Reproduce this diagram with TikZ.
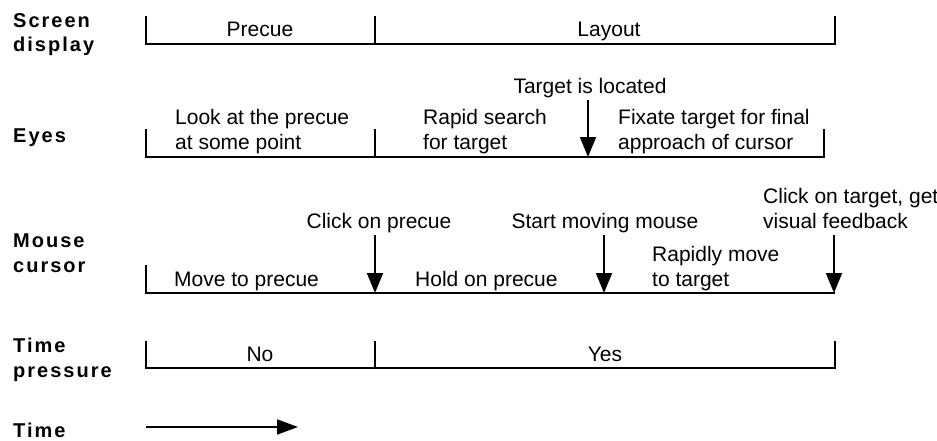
\documentclass[tikz,border=0pt]{standalone}
\usepackage{fontspec}
\setmainfont{Liberation Sans}
\newfontfamily\lblfont[LetterSpace=10]{Liberation Sans}
\usetikzlibrary{arrows.meta}
\tikzset{
  txt/.style={font=\fontsize{21}{25}\selectfont, inner sep=0pt, anchor=base west},
  ctxt/.style={txt, anchor=base},
  lbl/.style={font=\lblfont\bfseries\fontsize{20}{24}\selectfont, inner sep=0pt, anchor=base west},
  tl/.style={line width=1.8pt, line join=miter},
  ev/.style={line width=1.8pt, -{Triangle[width=16pt,length=20pt]}},
  tarrow/.style={line width=1.8pt, -{Triangle[width=15pt,length=21pt]}}
}
\begin{document}
\begin{tikzpicture}[x=1pt,y=-1pt]
\useasboundingbox (0,0) rectangle (937,440);
% left labels
\node[lbl] (l1) at (13,27) {Screen};
\node[lbl] (l2) at (13,51) {display};
\node[lbl] (l3) at (13,142) {Eyes};
\node[lbl] (l4) at (13,247) {Mouse};
\node[lbl] (l5) at (13,272) {cursor};
\node[lbl] (l6) at (13,352) {Time};
\node[lbl] (l7) at (13,377) {pressure};
\node[lbl] (l8) at (13,437) {Time};
% coordinates
\coordinate (sa) at (146,16); \coordinate (sb) at (146,44);
\coordinate (sc) at (835,44); \coordinate (sd) at (835,16);
\coordinate (se) at (375,16); \coordinate (sf) at (375,44);
\coordinate (ea) at (146,129); \coordinate (eb) at (146,157);
\coordinate (ec) at (824,157); \coordinate (ed) at (824,129);
\coordinate (ee) at (375,129); \coordinate (ef) at (375,157);
\coordinate (et) at (588,100); \coordinate (eu) at (588,157);
\coordinate (ma) at (146,265); \coordinate (mb) at (146,293);
\coordinate (mc) at (835,293);
\coordinate (m1) at (375,235); \coordinate (m1e) at (375,293);
\coordinate (m2) at (604,235); \coordinate (m2e) at (604,293);
\coordinate (m3) at (834,235); \coordinate (m3e) at (834,293);
\coordinate (pa) at (146,341); \coordinate (pb) at (146,368);
\coordinate (pc) at (835,368); \coordinate (pd) at (835,341);
\coordinate (pe) at (375,341); \coordinate (pf) at (375,368);
\coordinate (ta) at (146,427); \coordinate (tb) at (298,427);
% screen display
\draw[tl] (sa) -- (sb) -- (sc) -- (sd);
\draw[tl] (se) -- (sf);
\node[ctxt] (precue) at (260,36) {Precue};
\node[ctxt] (layout) at (609,36) {Layout};
% eyes
\draw[tl] (ea) -- (eb) -- (ec) -- (ed);
\draw[tl] (ee) -- (ef);
\draw[ev] (et) -- (eu);
\node[ctxt] (tloc) at (590,93) {Target is located};
\node[txt] (look1) at (175,124) {Look at the precue};
\node[txt] (look2) at (175,149) {at some point};
\node[txt] (rap1) at (423,124) {Rapid search};
\node[txt] (rap2) at (423,149) {for target};
\node[txt] (fix1) at (618,124) {Fixate target for final};
\node[txt] (fix2) at (618,149) {approach of cursor};
% mouse cursor
\draw[tl] (ma) -- (mb) -- (mc);
\draw[ev] (m1) -- (m1e);
\draw[ev] (m2) -- (m2e);
\draw[ev] (m3) -- (m3e);
\node[ctxt] (clickp) at (379,228) {Click on precue};
\node[ctxt] (startm) at (605,228) {Start moving mouse};
\node[txt] (clickt1) at (763,203) {Click on target, get};
\node[txt] (clickt2) at (763,228) {visual feedback};
\node[txt] (movep) at (174,286) {Move to precue};
\node[txt] (holdp) at (415,286) {Hold on precue};
\node[txt] (rmove1) at (652,261) {Rapidly move};
\node[txt] (rmove2) at (652,286) {to target};
% time pressure
\draw[tl] (pa) -- (pb) -- (pc) -- (pd);
\draw[tl] (pe) -- (pf);
\node[ctxt] (no) at (260,361) {No};
\node[ctxt] (yes) at (605,361) {Yes};
% time arrow
\draw[tarrow] (ta) -- (tb);
\end{tikzpicture}
\end{document}
